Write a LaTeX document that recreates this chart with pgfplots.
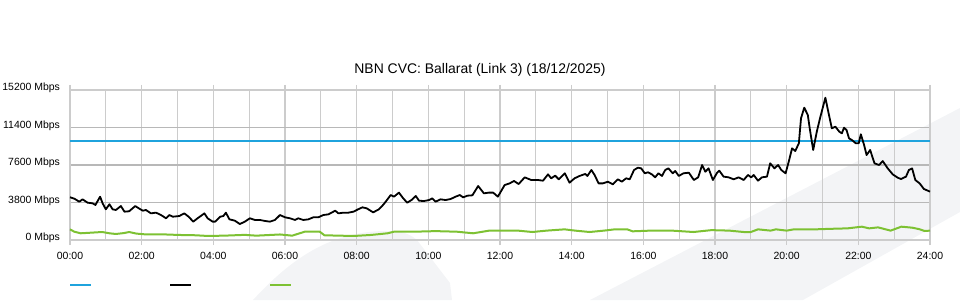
\documentclass[border=0pt]{standalone}
\usepackage{fontspec}
\setmainfont{Liberation Sans}
\usepackage{pgfplots}
\pgfplotsset{compat=1.18}
\usepackage{pgfplotstable}
\definecolor{cblue}{HTML}{1FA3DD}
\definecolor{cgreen}{HTML}{7DC133}
\definecolor{wm}{HTML}{F3F4F6}
\definecolor{gridx}{HTML}{CCCCCC}
\definecolor{gridy}{HTML}{B8B8B8}

\pgfplotstableread{
h v
0.00 4330
0.12 4190
0.26 3880
0.35 4120
0.49 3780
0.63 3720
0.71 3550
0.84 4390
0.91 3720
1.00 3110
1.10 3620
1.19 3110
1.28 3040
1.42 3440
1.52 2870
1.65 2910
1.82 3440
1.92 3210
2.03 2970
2.12 3040
2.26 2700
2.40 2770
2.54 2530
2.68 2200
2.77 2530
2.87 2360
3.05 2430
3.19 2700
3.31 2360
3.44 1860
3.56 2200
3.66 2460
3.75 2700
3.84 2200
3.98 1860
4.05 1860
4.19 2360
4.28 2430
4.35 2770
4.45 2090
4.60 1960
4.74 1620
4.88 1860
5.02 2200
5.16 2030
5.30 2030
5.44 1930
5.58 1860
5.72 2030
5.86 2530
6.00 2300
6.14 2200
6.28 2030
6.37 2200
6.51 2030
6.65 2090
6.79 2300
6.93 2300
7.07 2530
7.21 2600
7.30 2770
7.40 2970
7.49 2700
7.63 2770
7.77 2770
7.91 2870
8.04 3110
8.16 3310
8.28 3210
8.46 2800
8.62 3110
8.71 3440
8.81 3880
8.95 4560
9.04 4390
9.18 4800
9.30 4220
9.41 3780
9.53 4050
9.65 4460
9.74 3980
9.88 3950
10.02 4050
10.11 4220
10.20 3880
10.34 4120
10.48 4050
10.62 4150
10.76 4390
10.88 4560
10.97 4320
11.09 4490
11.23 4530
11.39 5470
11.55 4730
11.69 4800
11.81 4800
11.94 4390
12.13 5570
12.27 5740
12.39 5980
12.52 5670
12.69 6350
12.87 6080
13.06 6080
13.20 6010
13.34 6650
13.43 6250
13.54 6520
13.64 6150
13.81 6760
13.94 5810
14.08 6250
14.22 6490
14.38 6690
14.44 6490
14.55 7090
14.64 6590
14.75 5740
14.87 5740
15.01 5910
15.15 5640
15.29 6150
15.40 5910
15.52 6250
15.62 6150
15.74 7090
15.85 7330
15.94 7260
16.04 6760
16.13 6860
16.24 6650
16.33 6350
16.42 6760
16.52 6490
16.61 7090
16.70 7260
16.82 6760
16.89 6990
16.99 6490
17.12 6760
17.27 6820
17.41 6080
17.53 6350
17.64 7600
17.73 6920
17.82 7260
17.94 6080
18.06 6820
18.12 7020
18.24 6420
18.38 6350
18.52 6150
18.66 6350
18.80 6080
18.92 6590
19.01 6350
19.08 6590
19.20 6010
19.31 6350
19.45 6420
19.54 7770
19.66 7260
19.76 7600
19.85 7090
19.97 6760
20.07 8110
20.15 9290
20.24 9020
20.34 9800
20.40 12330
20.49 13410
20.59 12670
20.65 11150
20.74 9120
20.84 10970
20.93 12330
21.08 14420
21.17 12840
21.26 11320
21.36 11480
21.47 10970
21.54 10810
21.60 11380
21.67 11150
21.74 10300
21.82 10130
21.93 9800
22.01 9800
22.07 10710
22.16 9630
22.23 8610
22.33 9120
22.45 7770
22.58 7600
22.68 8000
22.82 7260
22.96 6650
23.10 6310
23.19 6180
23.33 6420
23.41 7090
23.50 7260
23.59 6080
23.71 5740
23.83 5170
24.00 4900
}\blackdata

\pgfplotstableread{
h v
0.00 1080
0.12 840
0.30 680
0.90 810
1.10 680
1.28 610
1.50 700
1.65 810
1.85 650
2.10 570
2.60 570
3.05 510
3.50 480
3.84 410
4.30 440
4.88 520
5.20 440
5.86 560
6.20 440
6.55 840
6.97 840
7.10 480
7.50 440
7.93 410
8.40 510
8.86 680
9.04 840
9.60 840
10.20 900
10.80 840
11.25 680
11.70 950
12.00 950
12.50 950
12.90 810
13.30 950
13.80 1080
14.10 950
14.50 810
14.90 950
15.20 1080
15.55 1080
15.70 880
16.20 950
16.80 950
17.40 810
17.90 1000
18.40 950
18.80 810
19.00 810
19.20 1080
19.55 950
19.70 1080
20.00 950
20.20 1080
20.80 1080
21.20 1130
21.70 1180
22.10 1350
22.30 1180
22.55 1280
22.90 950
23.20 1350
23.50 1250
23.70 1100
23.85 910
24.00 950
}\greendata

\begin{document}
\begin{tikzpicture}[x=1bp,y=1bp]
\useasboundingbox (0,0) rectangle (960,300);
% faint background watermark
\fill[wm] (590,0) -- (960,192) -- (960,88) -- (803,0) -- cycle;
\fill[wm] (253,0) .. controls (290,40) and (330,70) .. (390,69) .. controls (405,69) and (412,64) .. (417,60) -- (450,17) -- (452,0) -- cycle;
\begin{axis}[
  at={(70bp,60bp)}, anchor=south west,
  scale only axis, width=860bp, height=150bp,
  xmin=0, xmax=24, ymin=0, ymax=15200,
  scaled y ticks=false,
  xtick={0,2,4,6,8,10,12,14,16,18,20,22,24},
  xticklabels={00:00,02:00,04:00,06:00,08:00,10:00,12:00,14:00,16:00,18:00,20:00,22:00,24:00},
  minor xtick={1,3,5,7,9,11,13,15,17,19,21,23},
  ytick={0,3800,7600,11400,15200},
  yticklabels={0 Mbps,3800 Mbps,7600 Mbps,11400 Mbps,15200 Mbps},
  xmajorgrids, xminorgrids, ymajorgrids,
  x grid style={gridx, line width=1.2bp},
  y grid style={gridy, line width=1.6bp},
  axis line style={gridx, line width=1.2bp},
  tick align=outside,
  major tick length=5bp, minor tick length=0bp,
  xtick style={gridx, line width=1.2bp},
  ytick style={draw=none},
  tick label style={font=\fontsize{10.5}{12}\selectfont, text=black},
  yticklabel style={xshift=-1.5bp, yshift=2bp},
  xticklabel style={yshift=-4bp},
  clip=false,
]
\addplot[cblue, line width=2bp] coordinates {(0,10000) (24,10000)};
\addplot[cgreen, line width=2bp, line join=round] table[x=h,y=v] {\greendata};
\addplot[black, line width=1.8bp, line join=round] table[x=h,y=v] {\blackdata};
\end{axis}
\node[font=\fontsize{14}{16}\selectfont] at (480,230) {NBN CVC: Ballarat (Link 3) (18/12/2025)};
\draw[cblue, line width=2bp] (70,15) -- (91,15);
\draw[black, line width=2bp] (170,15) -- (191,15);
\draw[cgreen, line width=2bp] (270,15) -- (291,15);
\end{tikzpicture}
\end{document}
